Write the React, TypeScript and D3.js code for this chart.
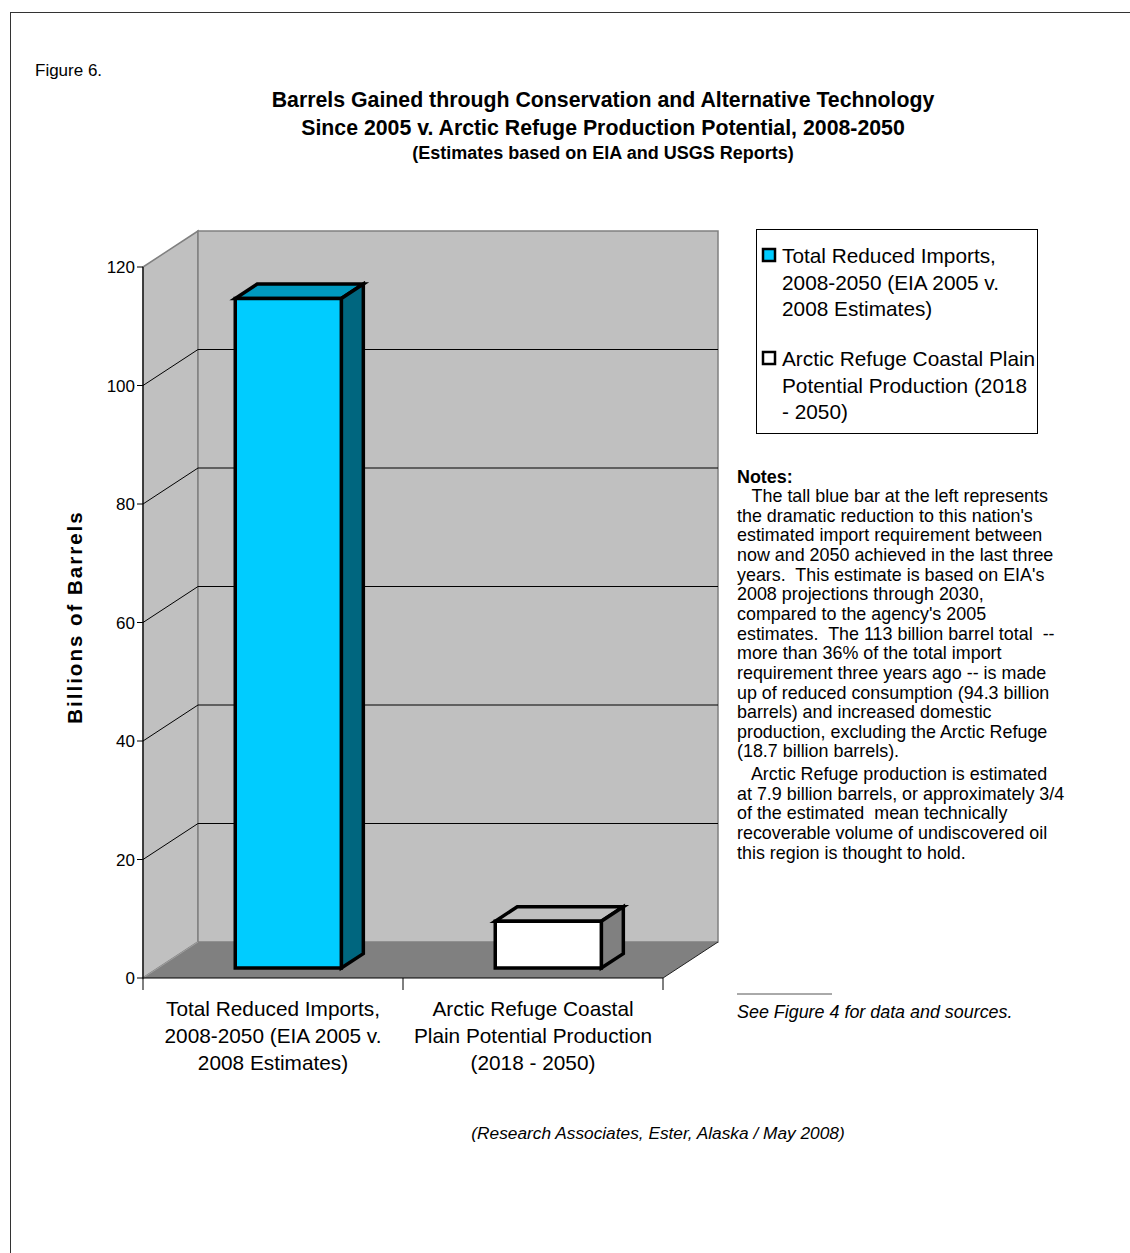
import React from "react";
import * as d3 from "d3";

const categories = ["Total Reduced Imports", "Arctic Refuge Coastal Plain"];
const values = [113, 7.9];
const categoryLabelLines = [
  ["Total Reduced Imports,", "2008-2050 (EIA 2005 v.", "2008 Estimates)"],
  ["Arctic Refuge Coastal", "Plain Potential Production", "(2018 - 2050)"],
];
const legendLines = [
  ["Total Reduced Imports,", "2008-2050 (EIA 2005 v.", "2008 Estimates)"],
  ["Arctic Refuge Coastal Plain", "Potential Production (2018", "- 2050)"],
];
const yTicks = [0, 20, 40, 60, 80, 100, 120];
const titleLines = [
  "Barrels Gained through Conservation and Alternative Technology",
  "Since 2005 v. Arctic Refuge Production Potential, 2008-2050",
];
const subtitle = "(Estimates based on EIA and USGS Reports)";
const notesLines = [
  "   The tall blue bar at the left represents",
  "the dramatic reduction to this nation's",
  "estimated import requirement between",
  "now and 2050 achieved in the last three",
  "years.  This estimate is based on EIA's",
  "2008 projections through 2030,",
  "compared to the agency's 2005",
  "estimates.  The 113 billion barrel total  --",
  "more than 36% of the total import",
  "requirement three years ago -- is made",
  "up of reduced consumption (94.3 billion",
  "barrels) and increased domestic",
  "production, excluding the Arctic Refuge",
  "(18.7 billion barrels).",
];
const notesLines2 = [
  "   Arctic Refuge production is estimated",
  "at 7.9 billion barrels, or approximately 3/4",
  "of the estimated  mean technically",
  "recoverable volume of undiscovered oil",
  "this region is thought to hold.",
];

const FONT = "'Liberation Sans', Arial, sans-serif";

const faces = [
  { front: "#00CCFF", top: "#0099BF", side: "#00667F" },
  { front: "#FFFFFF", top: "#BFBFBF", side: "#808080" },
];

export default function App() {
  const x0 = 143, x1 = 663, yBase = 978;
  const DX = 55, DY = 36;
  const y = d3.scaleLinear().domain([0, 120]).range([yBase, 267]);
  const xb = d3.scaleBand<string>().domain(categories).range([x0, x1]).padding(0);
  const P = (x: number, v: number, z: number): [number, number] => [x + z * DX, y(v) - z * DY];
  const poly = (pts: [number, number][]) => pts.map((p) => p.join(",")).join(" ");

  const z0 = 0.278, z1 = 0.678;
  const bw = xb.bandwidth() * 0.408;
  const NX = 737;
  const NF = 17.9;

  return (
    <svg
      width={1130}
      height={1253}
      style={{ position: "absolute", left: 0, top: 0, background: "#fff" }}
      fontFamily={FONT}
    >
      <rect x={0} y={0} width={1130} height={1253} fill="#fff" />
      <rect x={10.5} y={12.5} width={1130} height={1260} fill="none" stroke="#333" strokeWidth={1} />
      <text x={35} y={76} fontSize={17}>Figure 6.</text>
      {titleLines.map((t, i) => (
        <text key={i} x={603} y={107 + i * 28} fontSize={21.3} fontWeight="bold" textAnchor="middle">{t}</text>
      ))}
      <text x={603} y={159} fontSize={18} fontWeight="bold" textAnchor="middle">{subtitle}</text>

      <polygon points={poly([P(x0, 0, 0), P(x0, 0, 1), P(x0, 120, 1), P(x0, 120, 0)])} fill="#C0C0C0" stroke="#808080" strokeWidth={1.5} />
      <polygon points={poly([P(x0, 0, 1), P(x1, 0, 1), P(x1, 120, 1), P(x0, 120, 1)])} fill="#C0C0C0" stroke="#808080" strokeWidth={1.5} />
      <polygon points={poly([P(x0, 0, 0), P(x1, 0, 0), P(x1, 0, 1), P(x0, 0, 1)])} fill="#808080" stroke="none" />
      <line x1={P(x0, 0, 0)[0]} y1={P(x0, 0, 0)[1]} x2={P(x0, 0, 1)[0]} y2={P(x0, 0, 1)[1]} stroke="#A0A0A0" strokeWidth={1} />
      <line x1={P(x1, 0, 0)[0]} y1={P(x1, 0, 0)[1]} x2={P(x1, 0, 1)[0]} y2={P(x1, 0, 1)[1]} stroke="#222" strokeWidth={1} />
      {yTicks.filter((v) => v > 0 && v < 120).map((v) => {
        const a = P(x0, v, 0), b = P(x0, v, 1), c = P(x1, v, 1);
        return <polyline key={v} points={poly([a, b, c])} fill="none" stroke="#000" strokeWidth={1} />;
      })}
      {categories.map((c, i) => {
        const cx = (xb(c) as number) + xb.bandwidth() / 2;
        const l = cx - bw / 2, r = cx + bw / 2;
        const v = values[i];
        const f = faces[i];
        return (
          <g key={c} stroke="#000" strokeWidth={3.5} strokeLinejoin="miter">
            <polygon points={poly([P(l, v, z0), P(r, v, z0), P(r, v, z1), P(l, v, z1)])} fill={f.top} />
            <polygon points={poly([P(r, 0, z0), P(r, v, z0), P(r, v, z1), P(r, 0, z1)])} fill={f.side} />
            <polygon points={poly([P(l, 0, z0), P(r, 0, z0), P(r, v, z0), P(l, v, z0)])} fill={f.front} />
          </g>
        );
      })}
      <line x1={x0} y1={y(0)} x2={x0} y2={y(120)} stroke="#000" strokeWidth={1.2} />
      <line x1={x0} y1={yBase} x2={x1} y2={yBase} stroke="#000" strokeWidth={1.2} />
      {yTicks.map((v) => (
        <g key={v}>
          <line x1={x0 - 6} y1={y(v)} x2={x0} y2={y(v)} stroke="#000" strokeWidth={1} />
          <text x={x0 - 8} y={y(v) + 6} fontSize={17} textAnchor="end">{v}</text>
        </g>
      ))}
      {[x0, x0 + xb.step(), x1].map((x, i) => (
        <line key={i} x1={x} y1={yBase} x2={x} y2={yBase + 12} stroke="#000" strokeWidth={1} />
      ))}
      {categories.map((c, i) => {
        const cx = (xb(c) as number) + xb.bandwidth() / 2;
        return (
          <text key={c} fontSize={20.8} textAnchor="middle">
            {categoryLabelLines[i].map((t, j) => (
              <tspan key={j} x={cx} y={1016 + j * 27}>{t}</tspan>
            ))}
          </text>
        );
      })}
      <text transform="translate(82,617) rotate(-90)" fontSize={20.5} fontWeight="bold" letterSpacing={2} textAnchor="middle">Billions of Barrels</text>

      <rect x={756.5} y={229.5} width={281} height={204} fill="#fff" stroke="#000" strokeWidth={1} />
      {legendLines.map((lines, i) => (
        <g key={i}>
          <rect x={763} y={249 + i * 103} width={12} height={12} fill={faces[i].front} stroke="#000" strokeWidth={2.5} />
          {lines.map((t, j) => (
            <text key={j} x={782} y={263 + i * 103 + j * 26.5} fontSize={20.8}>{t}</text>
          ))}
        </g>
      ))}

      <text x={NX} y={483} fontSize={NF} fontWeight="bold">Notes:</text>
      {notesLines.map((t, j) => (
        <text key={j} x={NX} y={502 + j * 19.65} fontSize={NF} style={{ whiteSpace: "pre" }}>{t}</text>
      ))}
      {notesLines2.map((t, j) => (
        <text key={j} x={NX} y={780 + j * 19.65} fontSize={NF} style={{ whiteSpace: "pre" }}>{t}</text>
      ))}
      <line x1={NX} y1={994} x2={832} y2={994} stroke="#555" strokeWidth={1} />
      <text x={NX} y={1018} fontSize={NF} fontStyle="italic">See Figure 4 for data and sources.</text>
      <text x={658} y={1139} fontSize={17.3} fontStyle="italic" textAnchor="middle">(Research Associates, Ester, Alaska / May 2008)</text>
    </svg>
  );
}
